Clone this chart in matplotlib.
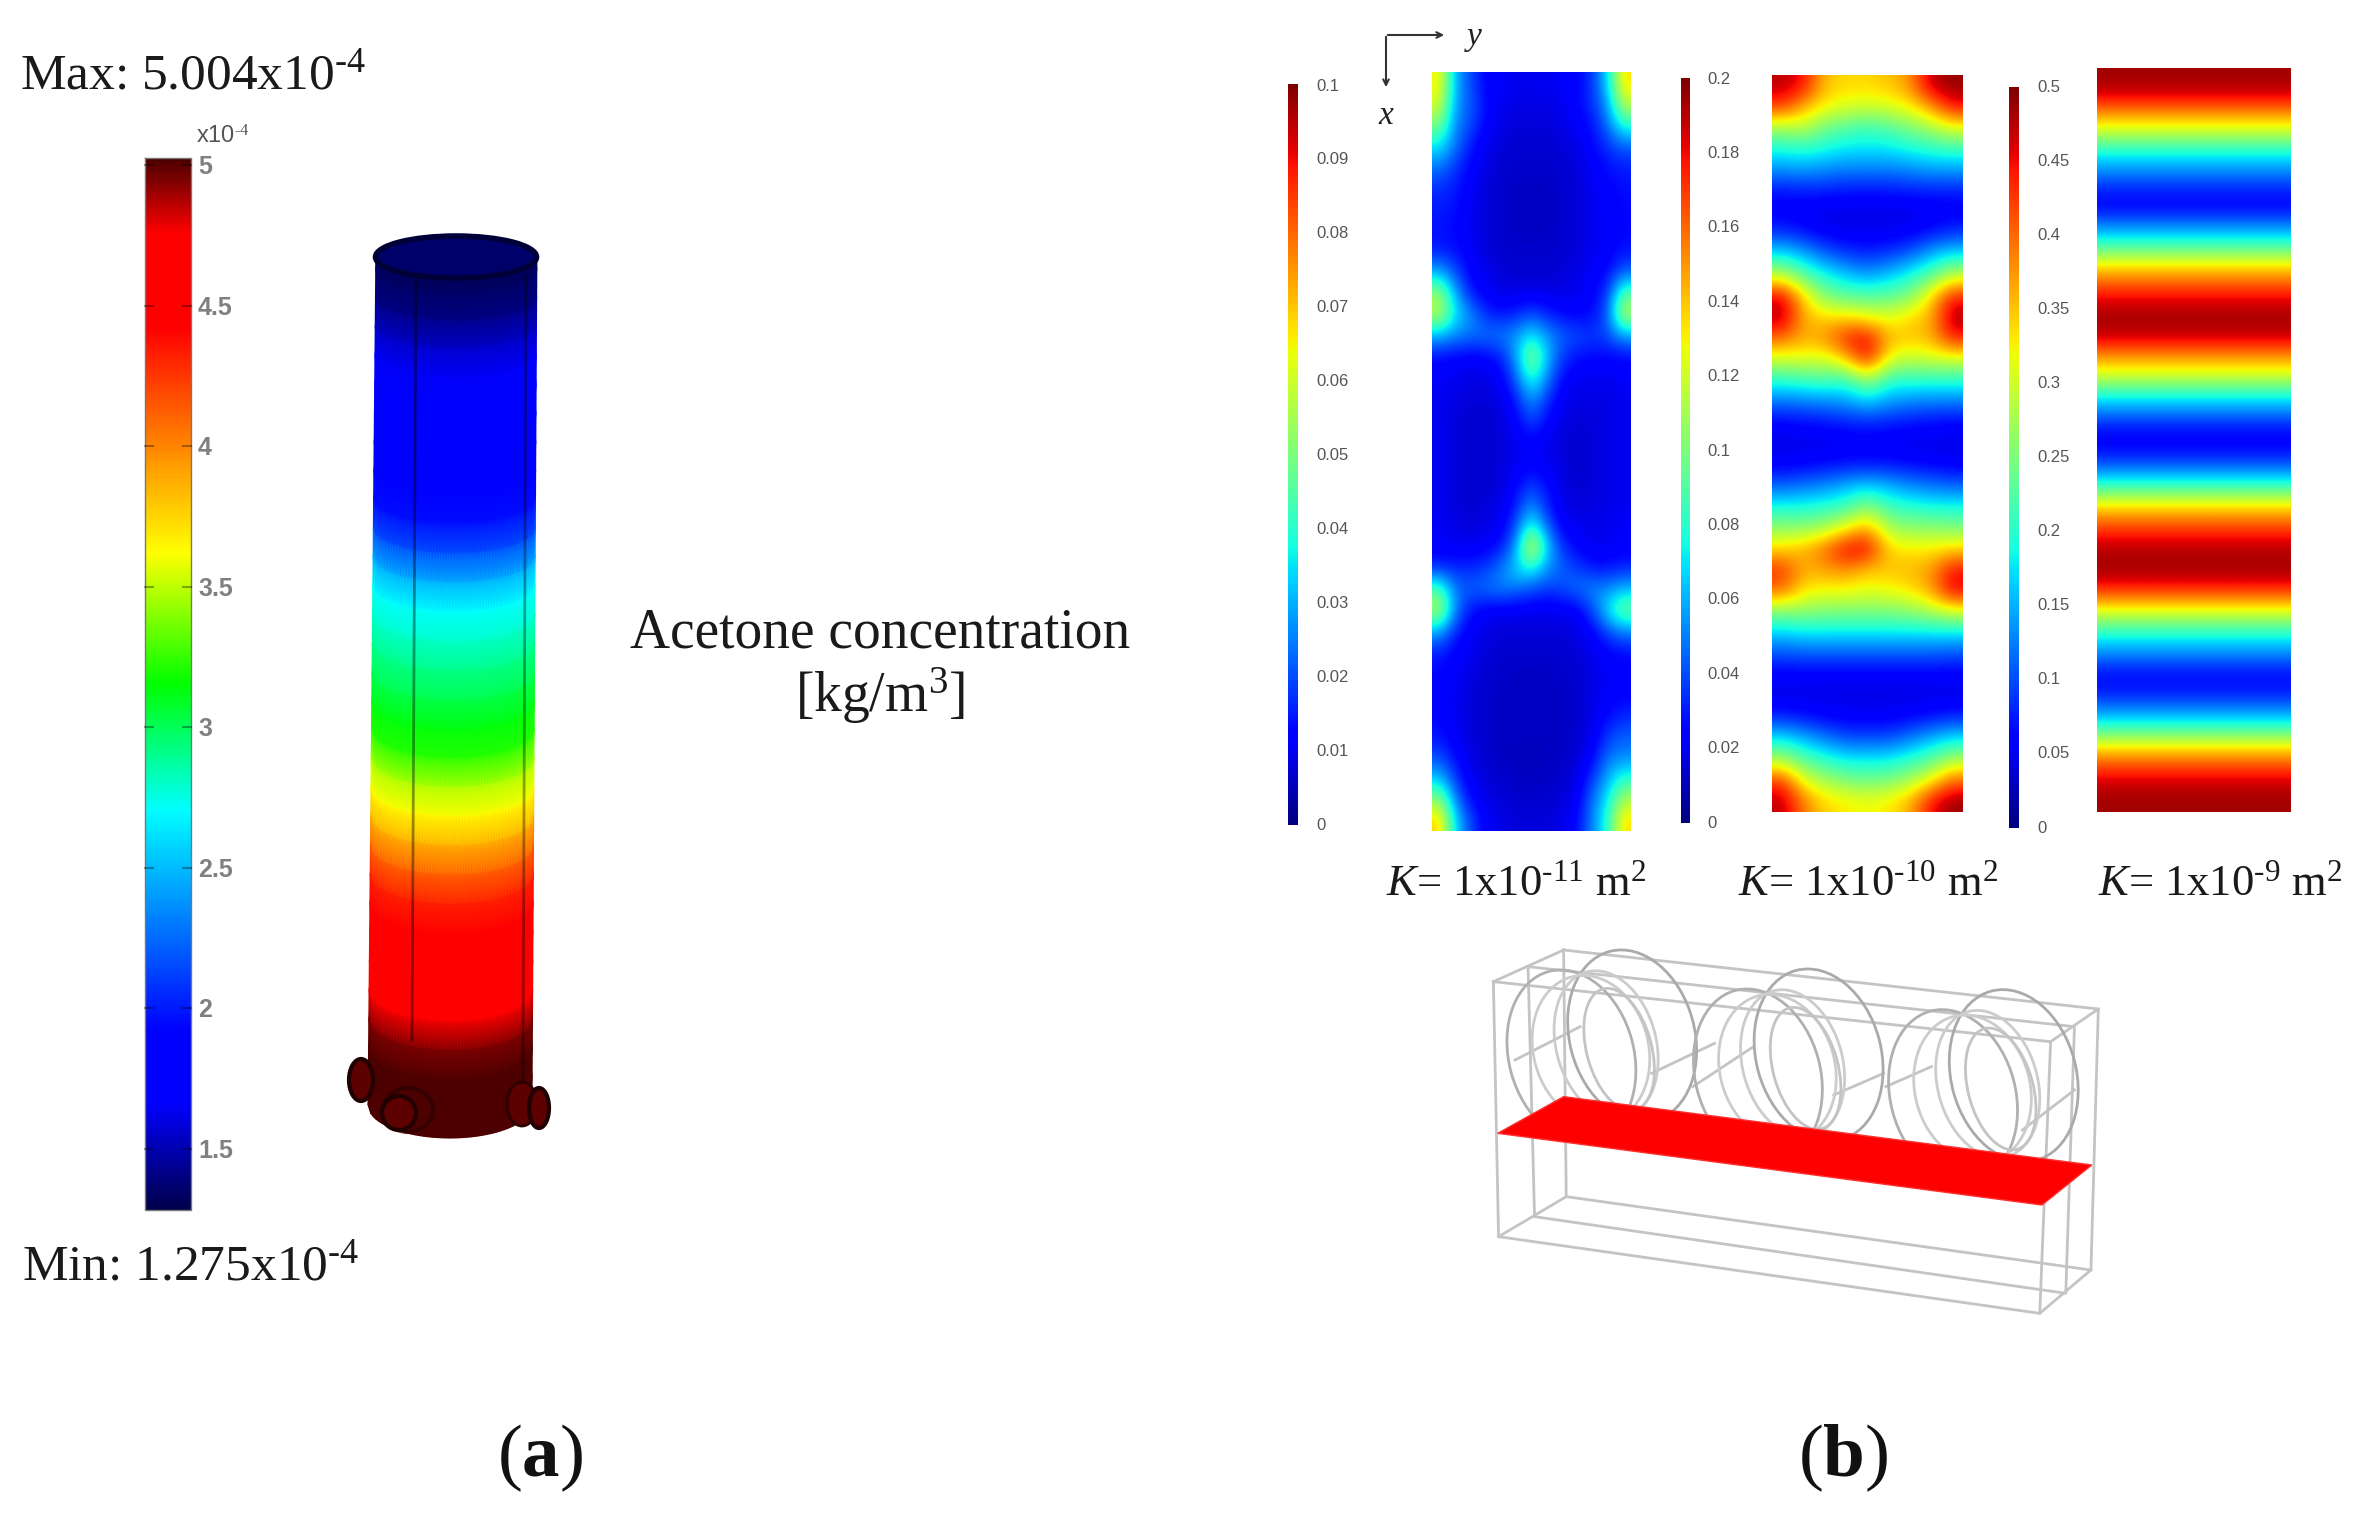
import matplotlib
matplotlib.use("Agg")
import matplotlib.pyplot as plt
import numpy as np
from matplotlib.colors import LinearSegmentedColormap
from matplotlib.patches import Ellipse, Polygon

plt.rcParams['font.family'] = ['Liberation Serif', 'DejaVu Serif']
plt.rcParams['mathtext.fontset'] = 'custom'
plt.rcParams['mathtext.rm'] = 'Liberation Serif'
plt.rcParams['mathtext.it'] = 'Liberation Serif:italic'
plt.rcParams['mathtext.bf'] = 'Liberation Serif:bold'

# concentration along the column, top to bottom (x10^-4 kg/m3)
column_conc = [1.30, 1.32, 1.40, 1.55, 1.65, 1.72, 1.75, 1.78, 1.82, 1.95, 2.15,
               2.45, 2.70, 2.78, 2.90, 3.00, 3.12, 3.20, 3.45, 3.62, 3.85, 4.10,
               4.30, 4.42, 4.45, 4.50, 4.70, 4.92, 5.00, 5.00, 5.00]
column_min = 1.275
column_max = 5.004
column_ticks = [5, 4.5, 4, 3.5, 3, 2.5, 2, 1.5]
column_tick_labels = ['5', '4.5', '4', '3.5', '3', '2.5', '2', '1.5']

# K = 1e-11 field, percent of colour range
field_k11 = [
    [66, 30, 20, 12, 11, 10, 10, 10, 11, 12, 18, 34, 68],
    [62, 28, 22, 13, 10, 9, 9, 9, 10, 13, 17, 28, 58],
    [50, 26, 20, 12, 9, 8, 8, 8, 9, 11, 14, 24, 40],
    [36, 24, 15, 10, 8, 7, 7, 7, 8, 9, 13, 17, 22],
    [24, 18, 12, 9, 7, 7, 7, 7, 7, 8, 11, 14, 15],
    [17, 15, 11, 8, 7, 6, 6, 6, 7, 8, 10, 12, 14],
    [15, 14, 10, 8, 7, 6, 6, 6, 7, 8, 10, 11, 13],
    [14, 13, 10, 8, 7, 6, 6, 6, 7, 8, 10, 11, 13],
    [15, 14, 11, 8, 7, 7, 7, 7, 7, 8, 10, 11, 14],
    [30, 20, 12, 10, 8, 7, 7, 7, 8, 9, 11, 13, 22],
    [54, 30, 15, 11, 9, 9, 10, 9, 9, 10, 12, 18, 46],
    [58, 36, 27, 17, 14, 16, 20, 16, 13, 12, 13, 22, 58],
    [30, 26, 24, 24, 25, 28, 36, 28, 22, 20, 18, 20, 28],
    [13, 12, 11, 12, 15, 28, 54, 32, 18, 14, 13, 12, 13],
    [11, 10, 9, 9, 11, 22, 42, 26, 13, 10, 10, 10, 11],
    [10, 9, 8, 8, 9, 15, 28, 18, 10, 9, 9, 9, 10],
    [10, 8, 7, 7, 8, 12, 20, 13, 9, 8, 8, 9, 10],
    [10, 8, 7, 7, 8, 10, 12, 10, 8, 7, 8, 9, 10],
    [10, 8, 7, 7, 8, 10, 11, 10, 8, 7, 8, 9, 10],
    [10, 8, 7, 7, 8, 12, 18, 13, 9, 7, 8, 9, 10],
    [10, 8, 7, 8, 9, 15, 26, 16, 9, 8, 9, 9, 10],
    [11, 9, 8, 9, 10, 20, 40, 22, 11, 10, 9, 10, 11],
    [11, 10, 10, 11, 14, 27, 66, 34, 17, 12, 10, 10, 11],
    [16, 16, 16, 18, 24, 34, 40, 28, 22, 18, 14, 14, 16],
    [44, 24, 22, 24, 26, 24, 20, 18, 20, 24, 26, 26, 30],
    [58, 26, 14, 11, 10, 10, 10, 10, 10, 11, 20, 36, 50],
    [30, 16, 11, 9, 8, 8, 8, 8, 8, 9, 12, 20, 26],
    [15, 12, 10, 8, 7, 7, 7, 7, 7, 8, 10, 12, 13],
    [13, 11, 9, 7, 7, 6, 6, 6, 7, 7, 9, 11, 12],
    [12, 10, 8, 7, 6, 6, 6, 6, 6, 7, 9, 11, 12],
    [13, 10, 8, 7, 6, 6, 6, 6, 6, 7, 9, 13, 16],
    [14, 11, 8, 7, 6, 6, 6, 6, 6, 7, 10, 18, 22],
    [20, 13, 9, 7, 6, 6, 5, 6, 6, 8, 12, 24, 26],
    [32, 18, 10, 8, 7, 6, 6, 6, 7, 9, 18, 30, 40],
    [52, 26, 13, 9, 8, 7, 7, 7, 8, 10, 24, 36, 56],
    [70, 34, 20, 11, 9, 8, 8, 8, 9, 13, 26, 40, 68],
]

# K = 1e-10 field
field_k10 = [
    [95, 90, 70, 68, 68, 70, 75, 95, 98],
    [85, 72, 65, 62, 60, 62, 65, 75, 90],
    [55, 58, 48, 45, 42, 45, 50, 55, 62],
    [38, 40, 38, 35, 35, 35, 38, 40, 42],
    [27, 28, 26, 25, 25, 25, 26, 28, 28],
    [14, 15, 15, 14, 14, 14, 15, 15, 15],
    [11, 10, 9, 9, 9, 9, 9, 10, 11],
    [17, 14, 11, 10, 10, 10, 11, 14, 17],
    [35, 30, 22, 18, 16, 18, 22, 30, 35],
    [58, 45, 38, 32, 28, 32, 38, 45, 58],
    [92, 68, 50, 46, 45, 46, 50, 68, 88],
    [96, 72, 68, 68, 64, 62, 68, 72, 97],
    [80, 72, 76, 88, 92, 72, 70, 72, 88],
    [60, 62, 60, 70, 90, 62, 58, 60, 60],
    [40, 42, 44, 40, 54, 40, 40, 40, 40],
    [24, 25, 26, 28, 33, 28, 26, 25, 25],
    [12, 13, 14, 15, 16, 15, 14, 13, 12],
    [9, 9, 9, 10, 10, 10, 9, 9, 9],
    [11, 12, 13, 14, 14, 14, 13, 12, 11],
    [22, 24, 26, 30, 33, 30, 26, 24, 22],
    [38, 38, 40, 42, 52, 42, 40, 38, 38],
    [52, 52, 55, 64, 74, 55, 52, 52, 50],
    [68, 72, 80, 92, 92, 68, 66, 66, 68],
    [86, 72, 74, 76, 70, 70, 72, 74, 90],
    [80, 66, 64, 64, 62, 64, 66, 74, 92],
    [50, 52, 50, 50, 50, 50, 52, 55, 60],
    [33, 35, 35, 35, 35, 35, 35, 35, 35],
    [20, 21, 21, 21, 21, 21, 21, 21, 20],
    [11, 11, 11, 11, 11, 11, 11, 11, 11],
    [9, 9, 9, 9, 9, 9, 9, 9, 9],
    [16, 14, 12, 11, 11, 11, 12, 14, 16],
    [35, 30, 25, 20, 20, 20, 25, 30, 35],
    [55, 45, 40, 36, 36, 36, 40, 45, 55],
    [85, 62, 55, 50, 48, 50, 55, 65, 80],
    [95, 78, 68, 66, 64, 66, 72, 90, 98],
]

# K = 1e-9 field, nearly uniform across so one profile is enough
profile_k9 = [97, 92, 74, 58, 38, 27, 16, 12, 26, 42, 64, 80, 92, 97, 93, 75, 61, 40,
              25, 13, 12, 24, 42, 66, 81, 93, 97, 94, 77, 56, 38, 26, 14, 14, 26, 42,
              66, 83, 94, 97]

ticks_k11 = ['0', '0.01', '0.02', '0.03', '0.04', '0.05', '0.06', '0.07', '0.08', '0.09', '0.1']
ticks_k10 = ['0', '0.02', '0.04', '0.06', '0.08', '0.1', '0.12', '0.14', '0.16', '0.18', '0.2']
ticks_k9 = ['0', '0.05', '0.1', '0.15', '0.2', '0.25', '0.3', '0.35', '0.4', '0.45', '0.5']

fig = plt.figure(figsize=(23.57, 15.17), dpi=100)
ax = fig.add_axes([0, 0, 1, 1])

comsol = LinearSegmentedColormap.from_list('comsol', [
    (0, (0, 0, .3)), (.1, (0, 0, 1)), (.17, (0, 0, 1)), (.38, (0, 1, 1)), (.5, (0, 1, 0)),
    (.625, (1, 1, 0)), (.84, (1, 0, 0)), (.93, (1, 0, 0)), (1, (.3, 0, 0))])

# left colour bar
bar = np.linspace(column_max, column_min, 256)[:, None]
ax.imshow(bar, cmap=comsol, vmin=column_min, vmax=column_max, aspect='auto',
          extent=(145, 191, 1210, 158), zorder=2)
ax.plot([145, 145, 191, 191, 145], [158, 1210, 1210, 158, 158], color='#777777', lw=1, zorder=3)
for v, lab in zip(column_ticks, column_tick_labels):
    y = 165 + (5 - v) * 281
    ax.plot([145, 153], [y, y], color='k', alpha=.35, lw=1.5, zorder=3)
    ax.plot([183, 191], [y, y], color='k', alpha=.35, lw=1.5, zorder=3)
    ax.text(198, y + 2, lab, family='Liberation Sans', fontsize=18, color='#555555',
            fontweight='bold', alpha=.75, va='center', ha='left')
ax.text(196, 137, r'x10$^{\text{-}4}$', family='Liberation Sans', fontsize=17, color='#555555', va='center')

# column body, bands follow the front of the cylinder
n_rows = len(column_conc)
n_cols = 60
u = np.linspace(-1, 1, n_cols)
side_y = np.linspace(240, 1105, n_rows)
left_x = np.linspace(376, 368, n_rows)
right_x = np.linspace(537, 532, n_rows)
X = np.zeros((n_rows, n_cols))
Y = np.zeros((n_rows, n_cols))
for i in range(n_rows):
    X[i] = left_x[i] + (u + 1) / 2 * (right_x[i] - left_x[i])
    Y[i] = side_y[i] + np.linspace(21, 33, n_rows)[i] * np.sqrt(1 - u ** 2)
C = np.tile(np.array(column_conc)[:, None], (1, n_cols))
ax.pcolormesh(X, Y, C, cmap=comsol, vmin=column_min, vmax=column_max, shading='gouraud', zorder=2)

# top opening
ax.add_patch(Polygon([(368, 232), (545, 232), (545, 257), (368, 257)], closed=True, fc='white', ec='none', zorder=2.5))
ax.add_patch(Ellipse((456, 257), 161, 42, fc='#00006a', ec='#000038', lw=4, zorder=3))
ax.plot([416, 412], [278, 1040], color='k', lw=2, alpha=.4, zorder=3)
ax.plot([526, 523], [275, 1080], color='k', lw=2, alpha=.35, zorder=3)

# inlets at the bottom
for cx, cy, w, h in [(361, 1080, 24, 42), (399, 1113, 34, 34), (539, 1108, 20, 40)]:
    ax.add_patch(Ellipse((cx, cy), w, h, fc='#5c0000', ec='#200000', lw=3, zorder=4))
ax.add_patch(Ellipse((408, 1110), 50, 44, fc='none', ec='#2a0000', lw=3, alpha=.7, zorder=3))
ax.add_patch(Ellipse((522, 1104), 30, 44, fc='#5c0000', ec='#2a0000', lw=2, zorder=3))

ax.text(20, 76, r'Max: 5.004x10$^{\text{-}4}$', fontsize=37, color='#1a1a1a', va='center')
ax.text(22, 1267, r'Min: 1.275x10$^{\text{-}4}$', fontsize=37, color='#1a1a1a', va='center')
ax.text(880, 633, 'Acetone concentration', fontsize=40, color='#1a1a1a', ha='center', va='center')
ax.text(880, 696, r'[kg/m$^{3}$]', fontsize=40, color='#1a1a1a', ha='center', va='center')
ax.text(540, 1458, r'($\mathbf{a}$)', fontsize=54, color='#111111', ha='center', va='center')
ax.text(1843, 1458, r'($\mathbf{b}$)', fontsize=54, color='#111111', ha='center', va='center')

# right hand panels
panels = [
    (np.array(field_k11), (1432, 1631, 831, 72), (1288, 1298, 825, 84), ticks_k11, 825, 86, 1316),
    (np.array(field_k10), (1772, 1963, 812, 75), (1681, 1690, 823, 78), ticks_k10, 823, 79, 1707),
    (np.column_stack([profile_k9, profile_k9]), (2097, 2291, 812, 68), (2009, 2019, 828, 87), ticks_k9, 828, 87, 2037),
]
for field, ext, bar_ext, labs, y0, y1, lab_x in panels:
    ax.imshow(field, cmap='jet', vmin=0, vmax=100, aspect='auto', extent=ext,
              interpolation='bicubic', zorder=2)
    ax.imshow(np.linspace(1, 0, 256)[:, None], cmap='jet', vmin=0, vmax=1, aspect='auto',
              extent=bar_ext, zorder=2)
    for y, lab in zip(np.linspace(y0, y1, len(labs)), labs):
        ax.text(lab_x, y, lab, family='Liberation Sans', fontsize=12, color='#555555',
                ha='left', va='center')

ax.text(1386, 884, r'$\mathit{K}$= 1x10$^{\text{-}11}$ m$^{2}$', fontsize=32, color='#1a1a1a', va='center')
ax.text(1738, 884, r'$\mathit{K}$= 1x10$^{\text{-}10}$ m$^{2}$', fontsize=32, color='#1a1a1a', va='center')
ax.text(2098, 884, r'$\mathit{K}$= 1x10$^{\text{-}9}$ m$^{2}$', fontsize=32, color='#1a1a1a', va='center')

# y / x axes marker
ax.annotate('', xy=(1447, 35), xytext=(1385, 35), arrowprops=dict(arrowstyle='->', color='#333333', lw=1.5))
ax.annotate('', xy=(1386, 90), xytext=(1386, 34), arrowprops=dict(arrowstyle='->', color='#333333', lw=1.5))
ax.text(1474, 37, 'y', style='italic', fontsize=24, color='#222222', ha='center', va='center')
ax.text(1386, 116, 'x', style='italic', fontsize=24, color='#222222', ha='center', va='center')


def wx(x):
    return 1450 + x / 2.306


def wy(y):
    return 930 + y / 3


# wire frame of the module, read in crop coordinates
wire_lines = [
    [(262, 60), (1495, 237), (1478, 1020), (268, 800), (262, 60)],
    [(180, 110), (1440, 290), (1420, 1090), (195, 860), (180, 110)],
    [(100, 155), (1385, 335), (1360, 1150), (112, 920), (100, 155)],
    [(100, 155), (262, 60)], [(1385, 335), (1495, 237)],
    [(112, 920), (268, 800)], [(1360, 1150), (1478, 1020)],
    [(150, 390), (300, 290)], [(465, 430), (610, 340)], [(560, 470), (700, 350)],
    [(885, 495), (1000, 430)], [(1005, 470), (1110, 410)], [(1320, 600), (1440, 480)],
]
for line in wire_lines:
    px = [wx(p[0]) for p in line]
    py = [wy(p[1]) for p in line]
    ax.plot(px, py, color='#c4c4c4', lw=2, zorder=2, solid_joinstyle='round')

ring_centres = [(420, 318), (850, 375), (1300, 437)]
ring_dx = [0, -140, -95, -60, -30]
ring_dy = [0, 60, 40, 25, 40]
ring_w = [125, 125, 115, 100, 65]
ring_h = [175, 175, 150, 150, 125]
ring_col = ['#aaaaaa', '#b0b0b0', '#cccccc', '#cccccc', '#c4c4c4']
for cx, cy in ring_centres:
    for dx, dy, w, h, col in zip(ring_dx, ring_dy, ring_w, ring_h, ring_col):
        ax.add_patch(Ellipse((wx(cx + dx), wy(cy + dy)), w, h, angle=-15, fc='none',
                             ec=col, lw=2, zorder=2))

ax.add_patch(Polygon([(wx(262), wy(500)), (wx(1480), wy(705)), (wx(1365), wy(825)), (wx(110), wy(610))],
                     closed=True, fc='#fe0000', ec='#ff3030', lw=1, zorder=3))

ax.set_xlim(0, 2357)
ax.set_ylim(1517, 0)
ax.axis('off')
fig.savefig('out.png', dpi=100, facecolor='white')
